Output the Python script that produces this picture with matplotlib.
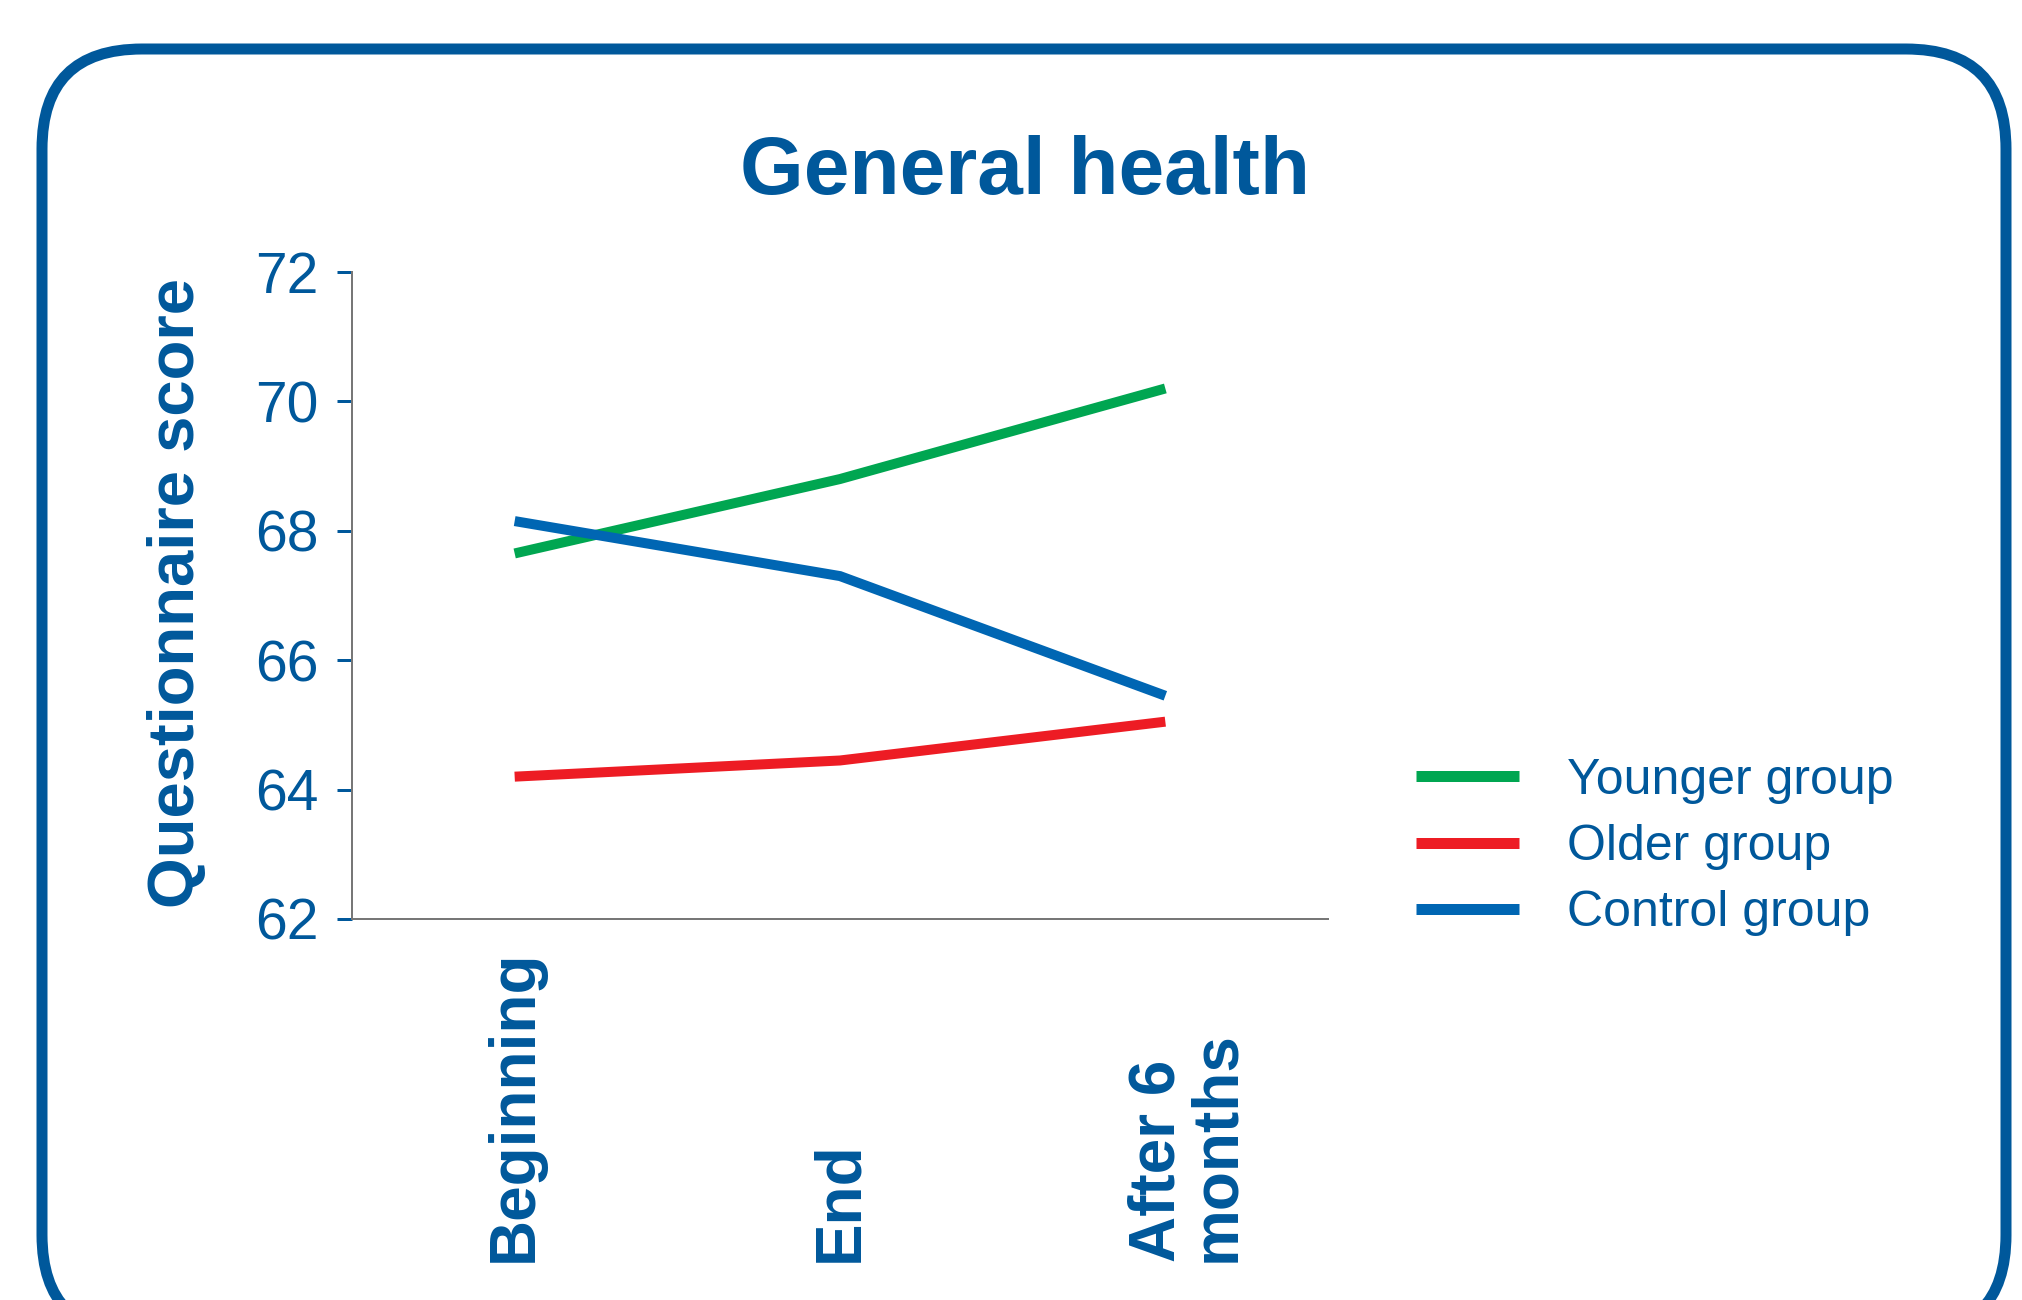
import matplotlib
matplotlib.use("Agg")
import matplotlib.pyplot as plt
from matplotlib.patches import FancyBboxPatch
import matplotlib.transforms as mtransforms

# ---- data ----
categories = ["Beginning", "End", "After 6\nmonths"]
younger = [67.65, 68.8, 70.2]
older = [64.2, 64.45, 65.05]
control = [68.15, 67.3, 65.45]
series_names = ["Younger group", "Older group", "Control group"]
y_ticks = [62, 64, 66, 68, 70, 72]
title = "General health"
y_label = "Questionnaire score"

TEXT = "#00589B"
FRAME = "#00589B"
colors = ["#00A651", "#ED1C24", "#0066B3"]

plt.rcParams["font.family"] = ["Liberation Sans", "DejaVu Sans"]

W, H = 2022, 1300
DPI = 100
fig = plt.figure(figsize=(W / DPI, H / DPI), dpi=DPI)
fig.patch.set_facecolor("white")

def px(v):
    return v * 72.0 / DPI

# rounded frame (in inches)
frame = FancyBboxPatch((42 / DPI, -35 / DPI), (2006 - 42) / DPI, (1300 - 49 + 35) / DPI,
                       boxstyle="round,pad=0,rounding_size=1.0",
                       transform=fig.dpi_scale_trans, fill=False,
                       edgecolor=FRAME, linewidth=px(11), clip_on=False)
fig.patches.append(frame)

left, right = 352 / W, 1328 / W
bottom, top = 1 - 919 / H, 1 - 272 / H
ax = fig.add_axes([left, bottom, right - left, top - bottom])
ax.set_facecolor("none")

x = list(range(len(categories)))
for vals, c, name in zip([younger, older, control], colors, series_names):
    ax.plot(x, vals, color=c, linewidth=px(10), solid_capstyle="butt",
            solid_joinstyle="miter", label=name, clip_on=False)

ax.set_xlim(-0.5, 2.5)
ax.set_ylim(62, 72)
ax.set_yticks(y_ticks)
ax.set_yticklabels([str(v) for v in y_ticks])
ax.tick_params(axis="y", direction="out", length=px(15), width=px(3), color=TEXT,
               labelcolor=TEXT, labelsize=41, pad=px(18))
ax.set_xticks(x)
ax.set_xticklabels([])
ax.tick_params(axis="x", length=0)

for s in ["top", "right"]:
    ax.spines[s].set_visible(False)
for s in ["left", "bottom"]:
    ax.spines[s].set_color("#777777")
    ax.spines[s].set_linewidth(px(2))

# x category labels (rotated, anchored at bottom)
trans = mtransforms.blended_transform_factory(ax.transData, fig.transFigure)
offsets = [0, 0, 22]
for xi, lab, off in zip(x, categories, offsets):
    t = mtransforms.offset_copy(trans, fig=fig, x=off, y=0, units="dots")
    ax.text(xi, 1 - 1262 / H, lab, transform=t, rotation=90, ha="center", va="bottom",
            fontsize=46, fontweight="bold", color=TEXT, linespacing=1.0,
            multialignment="left", clip_on=False)

fig.text(177 / W, 1 - 593 / H, y_label, rotation=90, ha="center", va="center",
         fontsize=47, fontweight="bold", color=TEXT)
fig.text(1025 / W, 1 - 173 / H, title, ha="center", va="center",
         fontsize=59, fontweight="bold", color=TEXT)

leg = ax.legend(loc="center left", bbox_to_anchor=(1416 / W, 1 - 847 / H),
                bbox_transform=fig.transFigure, frameon=False, fontsize=36,
                handlelength=2.06, handletextpad=0.96, labelspacing=0.41,
                borderpad=0, borderaxespad=0)
for t in leg.get_texts():
    t.set_color(TEXT)
for l in leg.get_lines():
    l.set_linewidth(px(11))
    l.set_solid_capstyle("butt")

fig.savefig("out.png", dpi=DPI, facecolor="white")
